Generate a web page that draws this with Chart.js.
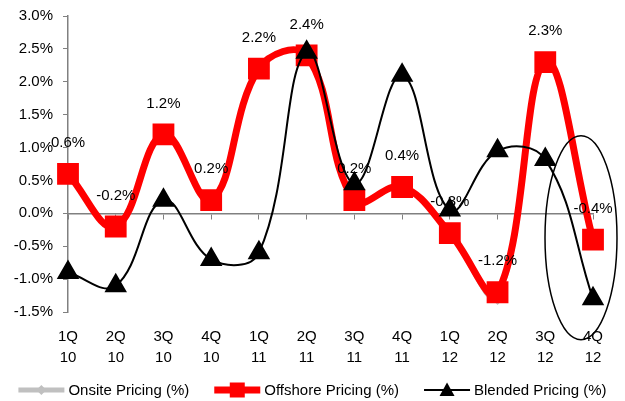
<!DOCTYPE html>
<html>
<head>
<meta charset="utf-8">
<script src="https://cdn.jsdelivr.net/npm/chart.js@4.4.1/dist/chart.umd.min.js"></script>
<style>
  html, body { margin: 0; padding: 0; background: #fff; }
  #wrap { width: 625px; height: 401px; }
</style>
</head>
<body>
<div id="wrap"><canvas id="pricingChart"></canvas></div>
<script>
const quarters = [['1Q', '10'], ['2Q', '10'], ['3Q', '10'], ['4Q', '10'],
                  ['1Q', '11'], ['2Q', '11'], ['3Q', '11'], ['4Q', '11'],
                  ['1Q', '12'], ['2Q', '12'], ['3Q', '12'], ['4Q', '12']];
const onsitePricing   = [0.6, -0.2, 1.2, 0.2, 2.2, 2.4, 0.2, 0.4, -0.3, -1.25, 2.3, -0.4];
const offshorePricing = [0.6, -0.2, 1.2, 0.2, 2.2, 2.4, 0.2, 0.4, -0.3, -1.2, 2.3, -0.4];
const blendedPricing  = [-0.9, -1.1, 0.2, -0.7, -0.6, 2.45, 0.45, 2.1, 0.05, 0.95, 0.82, -1.3];
const yMin = -1.5, yMax = 3.0, yStep = 0.5;

const FONT = 'Arial, "Liberation Sans", sans-serif';

function drawMarker(g, marker, x, y, size) {
  const s = size / 2;
  g.beginPath();
  if (marker === 'diamond') {
    g.moveTo(x, y - s); g.lineTo(x + s, y); g.lineTo(x, y + s); g.lineTo(x - s, y);
  } else if (marker === 'square') {
    g.rect(x - s, y - s, 2 * s, 2 * s);
  } else {
    g.moveTo(x, y - s); g.lineTo(x + s, y + s * 0.8); g.lineTo(x - s, y + s * 0.8);
  }
  g.closePath();
  g.fill();
}

// legend row under the axis: line sample with marker, then the series name
const legendSymbols = [
  { color: '#c0c0c0', width: 5, marker: 'diamond', size: 10 },
  { color: '#ff0000', width: 7, marker: 'square', size: 15 },
  { color: '#000000', width: 2, marker: 'triangle', size: 15 }
];

const bottomLegend = {
  id: 'bottomLegend',
  afterDraw(chart) {
    const ctx = chart.ctx;
    const lineLen = 46, textGap = 4, itemGap = 25;
    ctx.save();
    ctx.font = '15px ' + FONT;
    const items = chart.data.datasets.map((ds, i) => ({
      text: ds.label,
      sym: legendSymbols[i],
      w: lineLen + textGap + ctx.measureText(ds.label).width
    }));
    const total = items.reduce((a, it) => a + it.w, 0) + itemGap * (items.length - 1);
    let x = (chart.width - total) / 2;
    const y = 390;
    items.forEach(it => {
      ctx.strokeStyle = it.sym.color;
      ctx.fillStyle = it.sym.color;
      ctx.lineWidth = it.sym.width;
      ctx.beginPath(); ctx.moveTo(x, y); ctx.lineTo(x + lineLen, y); ctx.stroke();
      drawMarker(ctx, it.sym.marker, x + lineLen / 2, y, it.sym.size);
      ctx.fillStyle = '#000';
      ctx.textAlign = 'left';
      ctx.textBaseline = 'middle';
      ctx.fillText(it.text, x + lineLen + textGap, y + 1);
      x += it.w + itemGap;
    });
    ctx.restore();
  }
};

// value labels above the offshore points
const offshoreLabels = {
  id: 'offshoreLabels',
  afterDatasetsDraw(chart) {
    const ctx = chart.ctx;
    const meta = chart.getDatasetMeta(1);
    ctx.save();
    ctx.font = '15px ' + FONT;
    ctx.fillStyle = '#000';
    ctx.textAlign = 'center';
    ctx.textBaseline = 'middle';
    meta.data.forEach((pt, i) => {
      ctx.fillText(offshorePricing[i].toFixed(1) + '%', pt.x, pt.y - 31);
    });
    ctx.restore();
  }
};

// ellipse drawn around the last quarter
const lastQuarterRing = {
  id: 'lastQuarterRing',
  afterDatasetsDraw(chart) {
    const x = chart.scales.x, y = chart.scales.y;
    const cx = x.getPixelForValue(quarters.length - 1) - 12;
    const top = y.getPixelForValue(1.18), bottom = y.getPixelForValue(-1.92);
    const ctx = chart.ctx;
    ctx.save();
    ctx.strokeStyle = '#000';
    ctx.lineWidth = 1.5;
    ctx.beginPath();
    ctx.ellipse(cx, (top + bottom) / 2, 36, (bottom - top) / 2, 0, 0, Math.PI * 2);
    ctx.stroke();
    ctx.restore();
  }
};

new Chart(document.getElementById('pricingChart'), {
  type: 'line',
  data: {
    labels: quarters,
    datasets: [
      {
        label: 'Onsite Pricing (%)',
        data: onsitePricing,
        borderColor: '#c0c0c0',
        backgroundColor: '#c0c0c0',
        borderWidth: 5,
        pointStyle: 'rectRot',
        pointRadius: 6,
        tension: 0.4,
        clip: false,
        order: 3
      },
      {
        label: 'Offshore Pricing (%)',
        data: offshorePricing,
        borderColor: '#ff0000',
        backgroundColor: '#ff0000',
        borderWidth: 7,
        pointStyle: 'rect',
        pointRadius: 14,
        pointBorderWidth: 2,
        tension: 0.4,
        clip: false,
        order: 2
      },
      {
        label: 'Blended Pricing (%)',
        data: blendedPricing,
        borderColor: '#000000',
        backgroundColor: '#000000',
        borderWidth: 2,
        pointStyle: 'triangle',
        pointRadius: 11,
        tension: 0.4,
        clip: false,
        order: 1
      }
    ]
  },
  options: {
    responsive: true,
    maintainAspectRatio: false,
    animation: false,
    layout: { padding: { top: 15, right: 32, left: 0, bottom: 19 } },
    plugins: {
      tooltip: { enabled: false },
      legend: { display: false }
    },
    scales: {
      x: {
        type: 'category',
        offset: false,
        grid: { display: false, drawTicks: false },
        border: { display: false },
        ticks: {
          color: '#000',
          padding: 14,
          maxRotation: 0,
          autoSkip: false,
          font: { family: FONT, size: 15, lineHeight: 1.4 }
        }
      },
      xZero: {
        type: 'category',
        labels: quarters,
        offset: false,
        position: { y: 0 },
        grid: { drawOnChartArea: false, drawTicks: true, tickLength: 5, color: '#808080' },
        border: { display: true, color: '#808080', width: 1.5 },
        ticks: { display: false }
      },
      y: {
        min: yMin,
        max: yMax,
        afterFit(scale) {
          scale.width = 68;
          scale.paddingTop = 0;
        },
        grid: { drawOnChartArea: false, tickLength: 5, color: '#808080' },
        border: { color: '#808080', width: 1.5 },
        ticks: {
          stepSize: yStep,
          padding: 10,
          color: '#000',
          font: { family: FONT, size: 15 },
          callback: v => v.toFixed(1) + '%'
        }
      }
    }
  },
  plugins: [offshoreLabels, lastQuarterRing, bottomLegend]
});
</script>
</body>
</html>
